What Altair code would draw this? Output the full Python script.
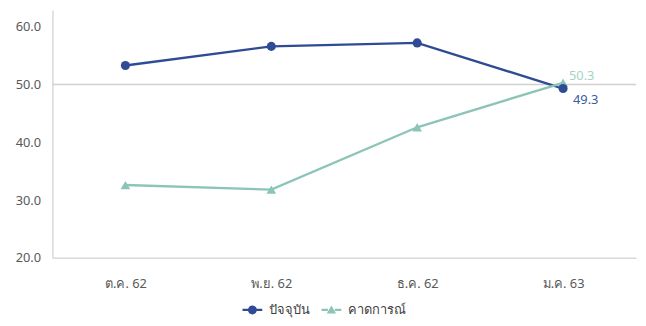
import altair as alt
import pandas as pd

months = ["ต.ค. 62", "พ.ย. 62", "ธ.ค. 62", "ม.ค. 63"]
current = [53.3, 56.6, 57.2, 49.3]
expected = [32.6, 31.8, 42.6, 50.3]
series_names = ["ปัจจุบัน", "คาดการณ์"]
y_ticks = [20, 30, 40, 50, 60]
ref_value = [50]

BLUE = "#2f4b95"
TEAL = "#8cc4b8"
FONT = "Noto Sans"

rows = []
for m, v in zip(months, current):
    rows.append({"month": m, "series": series_names[0], "value": v})
for m, v in zip(months, expected):
    rows.append({"month": m, "series": series_names[1], "value": v})
df = pd.DataFrame(rows)

x = alt.X("month:N", sort=months,
          scale=alt.Scale(type="point", padding=0.5),
          axis=alt.Axis(title=None, labelAngle=0, ticks=False, domainColor="#d9d9d9",
                        domainWidth=1.5, labelFontSize=13, labelColor="#595959",
                        labelFont=FONT, labelPadding=20))
y = alt.Y("value:Q", scale=alt.Scale(domain=[20, 62.9], nice=False, zero=False),
          axis=alt.Axis(title=None, values=y_ticks, format=".1f", grid=False, ticks=False,
                        domainColor="#d9d9d9", domainWidth=1.5, labelFontSize=13,
                        labelColor="#595959", labelFont=FONT, labelPadding=12))
color_scale = alt.Scale(domain=series_names, range=[BLUE, TEAL])

line_circle = ("M-2,-0.24 L-0.75,-0.24 L-0.75,0.24 L-2,0.24 Z "
               "M0.75,-0.24 L2,-0.24 L2,0.24 L0.75,0.24 Z "
               "M0.9,0 A0.9,0.9 0 1,1 -0.9,0 A0.9,0.9 0 1,1 0.9,0 Z")
line_tri = ("M-2,-0.24 L-0.7,-0.24 L-0.7,0.24 L-2,0.24 Z "
            "M0.7,-0.24 L2,-0.24 L2,0.24 L0.7,0.24 Z "
            "M0,-0.9 L0.95,0.7 L-0.95,0.7 Z")

leg = alt.Legend(title=None, orient="none", direction="horizontal",
                 legendX=196, legendY=297, symbolOpacity=1,
                 symbolSize=100, symbolStrokeWidth=0, symbolType=line_circle,
                 labelFontSize=13, labelColor="#404040", labelFont=FONT,
                 labelOffset=10, columnPadding=12)

color = alt.Color("series:N", scale=color_scale, sort=series_names, legend=leg)

base = alt.Chart(df)

ref = alt.Chart(pd.DataFrame({"v": ref_value})).mark_rule(color="#d0d0d0", strokeWidth=1.5).encode(
    y=alt.Y("v:Q", scale=alt.Scale(domain=[20, 62.9], nice=False, zero=False)))

lines = base.mark_line(strokeWidth=2.4).encode(
    x=x, y=y, color=color, order=alt.Order("series:N"))

pts_teal = base.transform_filter(alt.datum.series == series_names[1]).mark_point(
    shape="triangle-up", filled=True, size=95, opacity=1).encode(
    x=x, y=y, color=color)

pts_blue = base.transform_filter(alt.datum.series == series_names[0]).mark_point(
    shape="circle", filled=True, size=85, opacity=1).encode(
    x=x, y=y, color=color)

last = months[-1]
lbl_teal = base.transform_filter(
    (alt.datum.series == series_names[1]) & (alt.datum.month == last)).mark_text(
    align="left", dx=6, dy=-7, fontSize=13, font=FONT, color="#a5d2c8").encode(
    x=x, y=y, text=alt.Text("value:Q", format=".1f"))
lbl_blue = base.transform_filter(
    (alt.datum.series == series_names[0]) & (alt.datum.month == last)).mark_text(
    align="left", dx=10, dy=12, fontSize=13, font=FONT, color="#3a5ba0").encode(
    x=x, y=y, text=alt.Text("value:Q", format=".1f"))

legend_layer = base.mark_point(filled=True, opacity=0).encode(
    x=x, y=y, color=color,
    shape=alt.Shape("series:N", scale=alt.Scale(domain=series_names, range=[line_circle, line_tri]),
                    sort=series_names, legend=leg))

chart = alt.layer(ref, lines, pts_teal, pts_blue, lbl_teal, lbl_blue, legend_layer).properties(
    width=591, height=251,
    autosize=alt.AutoSizeParams(type="none"),
    padding={"left": 45, "top": 0, "right": 2, "bottom": 67},
).configure(background="white").configure_view(strokeWidth=0, stroke="transparent")

chart.save("out.html", embed_options={"renderer": "svg", "actions": False})
